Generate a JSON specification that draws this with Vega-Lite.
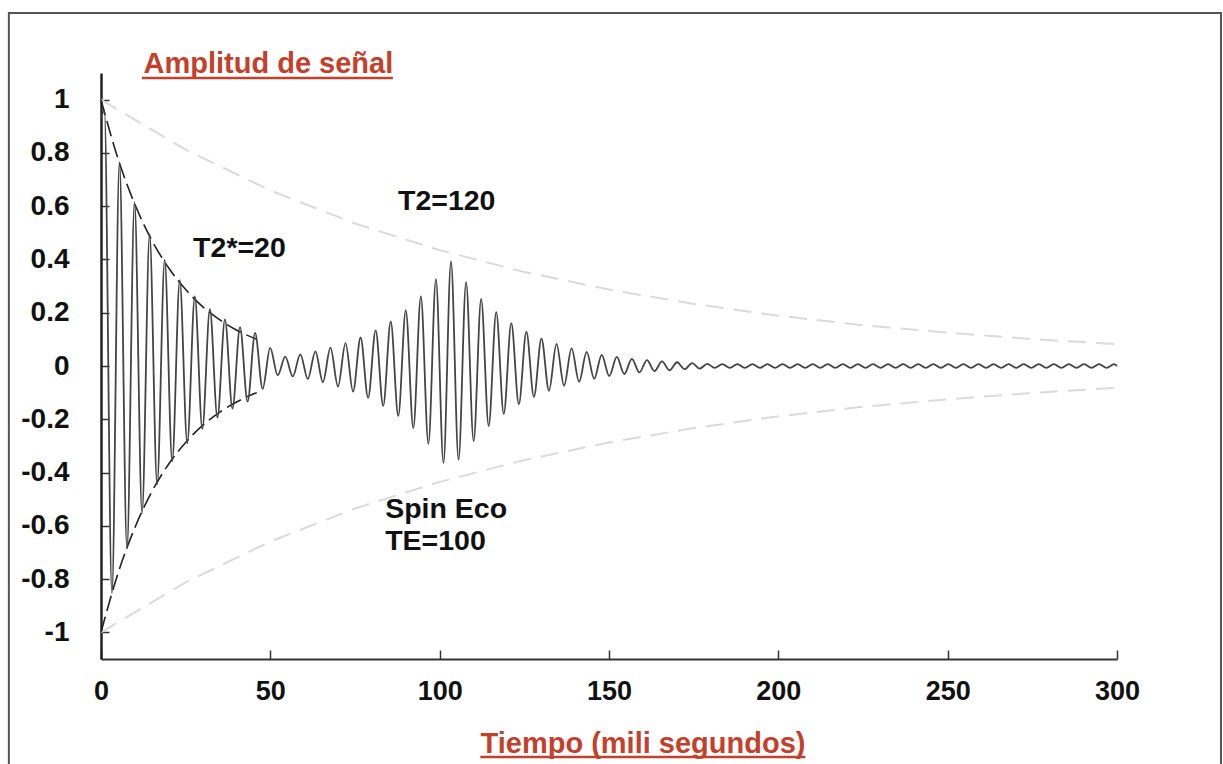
{
  "$schema": "https://vega.github.io/schema/vega-lite/v6.json",
  "width": 1016,
  "height": 586,
  "autosize": {"type": "none"},
  "padding": {"left": 101, "top": 73, "right": 106, "bottom": 105},
  "background": "white",
  "config": {
    "view": {"stroke": null},
    "font": "Liberation Sans"
  },
  "datasets": {
    "signal": [
      {"t": 0, "v": 0.93}, {"t": 1, "v": 0.96}, {"t": 3.225, "v": -0.853}, {"t": 5.45, "v": 0.765}, {"t": 7.675, "v": -0.686},
      {"t": 9.9, "v": 0.615}, {"t": 12.125, "v": -0.551}, {"t": 14.35, "v": 0.494}, {"t": 16.575, "v": -0.444},
      {"t": 18.8, "v": 0.398}, {"t": 21.025, "v": -0.358}, {"t": 23.25, "v": 0.322}, {"t": 25.475, "v": -0.29},
      {"t": 27.7, "v": 0.261}, {"t": 29.925, "v": -0.236}, {"t": 32.15, "v": 0.213}, {"t": 34.375, "v": -0.193},
      {"t": 36.6, "v": 0.175}, {"t": 38.825, "v": -0.16}, {"t": 41.05, "v": 0.146}, {"t": 43.275, "v": -0.134},
      {"t": 45.5, "v": 0.124}, {"t": 47.725, "v": -0.086}, {"t": 49.95, "v": 0.068}, {"t": 52.175, "v": -0.035},
      {"t": 54.4, "v": 0.035}, {"t": 56.625, "v": -0.039}, {"t": 58.85, "v": 0.044}, {"t": 61.075, "v": -0.049},
      {"t": 63.3, "v": 0.055}, {"t": 65.525, "v": -0.061}, {"t": 67.75, "v": 0.069}, {"t": 69.975, "v": -0.077},
      {"t": 72.2, "v": 0.086}, {"t": 74.425, "v": -0.096}, {"t": 76.65, "v": 0.107}, {"t": 78.875, "v": -0.12},
      {"t": 81.1, "v": 0.134}, {"t": 83.325, "v": -0.15}, {"t": 85.55, "v": 0.167}, {"t": 87.775, "v": -0.187},
      {"t": 90, "v": 0.209}, {"t": 92.225, "v": -0.233}, {"t": 94.45, "v": 0.261}, {"t": 96.675, "v": -0.292},
      {"t": 98.9, "v": 0.326}, {"t": 101.125, "v": -0.364}, {"t": 103.35, "v": 0.393}, {"t": 105.575, "v": -0.352},
      {"t": 107.8, "v": 0.315}, {"t": 110.025, "v": -0.282}, {"t": 112.25, "v": 0.252}, {"t": 114.475, "v": -0.225},
      {"t": 116.7, "v": 0.202}, {"t": 118.925, "v": -0.18}, {"t": 121.15, "v": 0.161}, {"t": 123.375, "v": -0.144},
      {"t": 125.6, "v": 0.129}, {"t": 127.825, "v": -0.116}, {"t": 130.05, "v": 0.103}, {"t": 132.275, "v": -0.093},
      {"t": 134.5, "v": 0.083}, {"t": 136.725, "v": -0.074}, {"t": 138.95, "v": 0.066}, {"t": 141.175, "v": -0.059},
      {"t": 143.4, "v": 0.053}, {"t": 145.625, "v": -0.048}, {"t": 147.85, "v": 0.042}, {"t": 150.075, "v": -0.038},
      {"t": 152.3, "v": 0.034}, {"t": 154.525, "v": -0.03}, {"t": 156.75, "v": 0.027}, {"t": 158.975, "v": -0.024},
      {"t": 161.2, "v": 0.022}, {"t": 163.425, "v": -0.019}, {"t": 165.65, "v": 0.017}, {"t": 167.875, "v": -0.016},
      {"t": 170.1, "v": 0.014}, {"t": 172.325, "v": -0.012}, {"t": 174.55, "v": 0.011}, {"t": 176.775, "v": -0.01},
      {"t": 179, "v": 0.008}, {"t": 181.225, "v": -0.007}, {"t": 183.45, "v": 0.007}, {"t": 185.675, "v": -0.007},
      {"t": 187.9, "v": 0.007}, {"t": 190.125, "v": -0.007}, {"t": 192.35, "v": 0.007}, {"t": 194.575, "v": -0.007},
      {"t": 196.8, "v": 0.007}, {"t": 199.025, "v": -0.007}, {"t": 201.25, "v": 0.007}, {"t": 203.475, "v": -0.007},
      {"t": 205.7, "v": 0.007}, {"t": 207.925, "v": -0.007}, {"t": 210.15, "v": 0.007}, {"t": 212.375, "v": -0.007},
      {"t": 214.6, "v": 0.007}, {"t": 216.825, "v": -0.007}, {"t": 219.05, "v": 0.007}, {"t": 221.275, "v": -0.007},
      {"t": 223.5, "v": 0.007}, {"t": 225.725, "v": -0.007}, {"t": 227.95, "v": 0.007}, {"t": 230.175, "v": -0.007},
      {"t": 232.4, "v": 0.007}, {"t": 234.625, "v": -0.007}, {"t": 236.85, "v": 0.007}, {"t": 239.075, "v": -0.007},
      {"t": 241.3, "v": 0.007}, {"t": 243.525, "v": -0.007}, {"t": 245.75, "v": 0.007}, {"t": 247.975, "v": -0.007},
      {"t": 250.2, "v": 0.007}, {"t": 252.425, "v": -0.007}, {"t": 254.65, "v": 0.007}, {"t": 256.875, "v": -0.007},
      {"t": 259.1, "v": 0.007}, {"t": 261.325, "v": -0.007}, {"t": 263.55, "v": 0.007}, {"t": 265.775, "v": -0.007},
      {"t": 268, "v": 0.007}, {"t": 270.225, "v": -0.007}, {"t": 272.45, "v": 0.007}, {"t": 274.675, "v": -0.007},
      {"t": 276.9, "v": 0.007}, {"t": 279.125, "v": -0.007}, {"t": 281.35, "v": 0.007}, {"t": 283.575, "v": -0.007},
      {"t": 285.8, "v": 0.007}, {"t": 288.025, "v": -0.007}, {"t": 290.25, "v": 0.007}, {"t": 292.475, "v": -0.007},
      {"t": 294.7, "v": 0.007}, {"t": 296.925, "v": -0.007}, {"t": 299.15, "v": 0.007}, {"t": 300, "v": 0}
    ],
    "t2env": [
      {"t": 0, "v": 1, "side": "top"}, {"t": 25, "v": 0.812, "side": "top"}, {"t": 50, "v": 0.659, "side": "top"},
      {"t": 75, "v": 0.535, "side": "top"}, {"t": 100, "v": 0.435, "side": "top"}, {"t": 125, "v": 0.353, "side": "top"},
      {"t": 150, "v": 0.287, "side": "top"}, {"t": 175, "v": 0.233, "side": "top"}, {"t": 200, "v": 0.189, "side": "top"},
      {"t": 225, "v": 0.153, "side": "top"}, {"t": 250, "v": 0.125, "side": "top"}, {"t": 275, "v": 0.101, "side": "top"},
      {"t": 300, "v": 0.082, "side": "top"},
      {"t": 0, "v": -1, "side": "bottom"}, {"t": 25, "v": -0.812, "side": "bottom"}, {"t": 50, "v": -0.659, "side": "bottom"},
      {"t": 75, "v": -0.535, "side": "bottom"}, {"t": 100, "v": -0.435, "side": "bottom"}, {"t": 125, "v": -0.353, "side": "bottom"},
      {"t": 150, "v": -0.287, "side": "bottom"}, {"t": 175, "v": -0.233, "side": "bottom"}, {"t": 200, "v": -0.189, "side": "bottom"},
      {"t": 225, "v": -0.153, "side": "bottom"}, {"t": 250, "v": -0.125, "side": "bottom"}, {"t": 275, "v": -0.101, "side": "bottom"},
      {"t": 300, "v": -0.082, "side": "bottom"}
    ],
    "t2starenv": [
      {"t": 0, "v": 1, "side": "top"}, {"t": 5, "v": 0.779, "side": "top"}, {"t": 10, "v": 0.607, "side": "top"},
      {"t": 15, "v": 0.472, "side": "top"}, {"t": 20, "v": 0.368, "side": "top"}, {"t": 25, "v": 0.287, "side": "top"},
      {"t": 30, "v": 0.223, "side": "top"}, {"t": 35, "v": 0.174, "side": "top"}, {"t": 40, "v": 0.135, "side": "top"},
      {"t": 46, "v": 0.1, "side": "top"},
      {"t": 0, "v": -1, "side": "bottom"}, {"t": 5, "v": -0.779, "side": "bottom"}, {"t": 10, "v": -0.607, "side": "bottom"},
      {"t": 15, "v": -0.472, "side": "bottom"}, {"t": 20, "v": -0.368, "side": "bottom"}, {"t": 25, "v": -0.287, "side": "bottom"},
      {"t": 30, "v": -0.223, "side": "bottom"}, {"t": 35, "v": -0.174, "side": "bottom"}, {"t": 40, "v": -0.135, "side": "bottom"},
      {"t": 46, "v": -0.1, "side": "bottom"}
    ],
    "notes": [
      {"t": 27.2, "v": 0.409, "label": "T2*=20"},
      {"t": 87.7, "v": 0.586, "label": "T2=120"},
      {"t": 83.9, "v": -0.571, "label": "Spin Eco"},
      {"t": 83.9, "v": -0.691, "label": "TE=100"}
    ],
    "underlines": [
      {"t": 12.1, "t2": 86.2, "v": 1.081},
      {"t": 112, "t2": 208, "v": -1.468}
    ],
    "frame": [
      {"t": -27.2, "t2": 330.7, "v": 1.325, "v2": -1.56}
    ]
  },
  "layer": [
    {
      "data": {"name": "t2env"},
      "mark": {"type": "line", "color": "#dadada", "strokeWidth": 2, "strokeDash": [18, 10]},
      "encoding": {
        "x": {"field": "t", "type": "quantitative", "scale": {"domain": [0, 300], "nice": false}},
        "y": {"field": "v", "type": "quantitative", "scale": {"domain": [-1.1, 1.1], "nice": false, "zero": false}},
        "detail": {"field": "side"}
      }
    },
    {
      "data": {"name": "t2starenv"},
      "mark": {"type": "line", "color": "#222", "strokeWidth": 1.6, "strokeDash": [16, 6], "interpolate": "monotone"},
      "encoding": {
        "x": {"field": "t", "type": "quantitative"},
        "y": {"field": "v", "type": "quantitative"},
        "detail": {"field": "side"}
      }
    },
    {
      "data": {"name": "signal"},
      "mark": {"type": "line", "color": "#444", "strokeWidth": 1.8, "interpolate": "monotone"},
      "encoding": {
        "x": {
          "field": "t", "type": "quantitative",
          "axis": {
            "values": [0, 50, 100, 150, 200, 250, 300],
            "title": "Tiempo (mili segundos)",
            "titleFont": "Liberation Sans", "titleFontSize": 29, "titleFontWeight": "bold", "titleColor": "#C4402B",
            "titleAlign": "left", "titleBaseline": "alphabetic", "titleX": 379, "titleY": 93, "titleAnchor": "start",
            "labelFont": "Liberation Sans", "labelFontSize": 27, "labelFontWeight": "bold", "labelColor": "#111",
            "labelPadding": 28, "tickSize": -9, "tickWidth": 1.5, "tickColor": "#333",
            "domainColor": "#333", "domainWidth": 2, "grid": false, "labelFlush": false
          }
        },
        "y": {
          "field": "v", "type": "quantitative",
          "axis": {
            "values": [-1, -0.8, -0.6, -0.4, -0.2, 0, 0.2, 0.4, 0.6, 0.8, 1],
            "labelExpr": "toString(datum.value)",
            "title": "Amplitud de señal",
            "titleFont": "Liberation Sans", "titleFontSize": 29, "titleFontWeight": "bold", "titleColor": "#C4402B",
            "titleAngle": 0, "titleAlign": "left", "titleBaseline": "alphabetic", "titleX": 42, "titleY": -1,
            "labelFont": "Liberation Sans", "labelFontSize": 28, "labelFontWeight": "bold", "labelColor": "#111",
            "labelPadding": 40, "tickSize": -8, "tickWidth": 1.5, "tickColor": "#333",
            "domainColor": "#222", "domainWidth": 2.5, "grid": false, "labelFlush": false
          }
        }
      }
    },
    {
      "data": {"name": "notes"},
      "mark": {"type": "text", "align": "left", "baseline": "alphabetic", "font": "Liberation Sans", "fontSize": 28.5, "fontWeight": "bold", "color": "#111"},
      "encoding": {
        "x": {"field": "t", "type": "quantitative"},
        "y": {"field": "v", "type": "quantitative"},
        "text": {"field": "label"}
      }
    },
    {
      "data": {"name": "underlines"},
      "mark": {"type": "rule", "color": "#C4402B", "strokeWidth": 2.5},
      "encoding": {
        "x": {"field": "t", "type": "quantitative"},
        "x2": {"field": "t2"},
        "y": {"field": "v", "type": "quantitative"}
      }
    },
    {
      "data": {"name": "frame"},
      "mark": {"type": "rect", "filled": false, "stroke": "#555", "strokeWidth": 2},
      "encoding": {
        "x": {"field": "t", "type": "quantitative"},
        "x2": {"field": "t2"},
        "y": {"field": "v", "type": "quantitative"},
        "y2": {"field": "v2"}
      }
    }
  ]
}
